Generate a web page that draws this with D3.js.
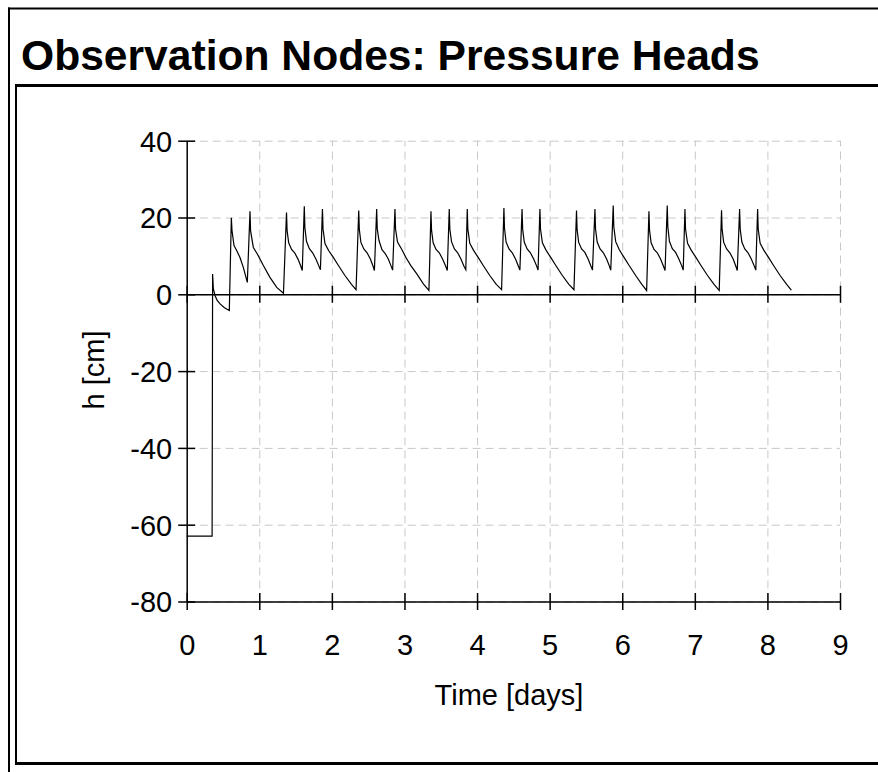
<!DOCTYPE html>
<html>
<head>
<meta charset="utf-8">
<style>
  body { margin: 0; background: #fff; }
  svg { display: block; font-family: "Liberation Sans", Arial, sans-serif; }
</style>
</head>
<body>
<div id="chart"></div>
<script src="https://d3js.org/d3.v7.min.js"></script>
<script>
// pressure head readings [time (days), h (cm)], one list per day
var day0 = [[0, -63], [0.35, -63], [0.357, 5.3], [0.367, 1.5], [0.39, -0.3], [0.42, -1.6], [0.46, -2.5], [0.52, -3.5], [0.587, -4.2],
  [0.615, 19.9], [0.624, 16.6], [0.652, 12.7], [0.688, 11.4], [0.734, 9.6], [0.78, 7.0], [0.835, 3.1],
  [0.872, 21.6], [0.88, 16.5], [0.918, 12.2], [0.973, 10.5], [1.056, 7.5], [1.147, 4.4], [1.24, 1.8], [1.333, 0.3]];
var day1 = [[1.375, 21.3], [1.383, 16.6], [1.405, 13.4], [1.445, 11.7], [1.49, 10.7], [1.535, 9.1], [1.572, 7.3], [1.592, 6.2],
  [1.62, 22.9], [1.628, 17.4], [1.65, 13.8], [1.69, 11.9], [1.735, 10.8], [1.78, 9.2], [1.82, 7.4], [1.842, 6.4],
  [1.87, 22.2], [1.878, 17.0], [1.905, 13.2], [1.955, 11.4], [2.02, 9.6], [2.09, 7.5], [2.18, 4.9], [2.27, 2.6], [2.333, 1.2]];
var day2 = [[2.37, 21.8], [2.378, 16.9], [2.4, 13.5], [2.44, 11.8], [2.485, 10.8], [2.53, 9.2], [2.568, 7.3], [2.586, 6.2],
  [2.617, 22.2], [2.625, 17.1], [2.649, 14.0], [2.69, 11.6], [2.735, 10.6], [2.777, 9.2], [2.815, 7.4], [2.837, 6.3],
  [2.869, 22.2], [2.877, 17.0], [2.904, 13.6], [2.96, 11.8], [3.02, 9.6], [3.09, 7.4], [3.17, 5.3], [3.26, 2.7], [3.337, 1.0]];
var day3 = [[3.365, 21.6], [3.373, 16.7], [3.395, 13.4], [3.435, 11.7], [3.48, 10.8], [3.525, 9.2], [3.568, 7.3], [3.59, 6.2],
  [3.617, 22.2], [3.625, 17.0], [3.648, 13.7], [3.688, 11.8], [3.733, 10.8], [3.778, 9.2], [3.82, 7.3], [3.845, 6.4],
  [3.865, 22.2], [3.873, 17.0], [3.9, 13.3], [3.95, 11.5], [4.015, 9.6], [4.085, 7.5], [4.175, 4.9], [4.265, 2.6], [4.338, 1.2]];
var day4 = [[4.37, 22.5], [4.378, 17.2], [4.4, 13.6], [4.44, 11.8], [4.485, 10.8], [4.53, 9.2], [4.57, 7.3], [4.59, 6.3],
  [4.62, 22.2], [4.628, 17.0], [4.65, 13.6], [4.69, 11.8], [4.735, 10.8], [4.78, 9.2], [4.82, 7.4], [4.84, 6.3],
  [4.866, 22.2], [4.874, 17.0], [4.9, 13.4], [4.95, 11.5], [5.015, 9.6], [5.085, 7.5], [5.175, 4.9], [5.265, 2.6], [5.335, 1.2]];
var day5 = [[5.37, 21.8], [5.378, 16.9], [5.4, 13.5], [5.44, 11.8], [5.485, 10.9], [5.53, 9.2], [5.57, 7.3], [5.59, 6.3],
  [5.624, 22.2], [5.632, 17.0], [5.655, 13.6], [5.695, 11.8], [5.74, 10.8], [5.785, 9.2], [5.822, 7.4], [5.842, 6.3],
  [5.876, 23.1], [5.884, 17.6], [5.91, 13.7], [5.96, 11.6], [6.025, 9.6], [6.095, 7.5], [6.185, 4.9], [6.27, 2.6], [6.336, 1.0]];
var day6 = [[6.368, 21.6], [6.376, 16.7], [6.398, 13.4], [6.438, 11.7], [6.483, 10.8], [6.528, 9.2], [6.568, 7.3], [6.59, 6.2],
  [6.62, 23.1], [6.628, 17.6], [6.65, 13.8], [6.69, 11.9], [6.735, 10.9], [6.78, 9.2], [6.82, 7.4], [6.84, 6.3],
  [6.864, 22.2], [6.872, 17.0], [6.9, 13.3], [6.95, 11.5], [7.015, 9.6], [7.085, 7.5], [7.175, 4.9], [7.265, 2.6], [7.336, 1.0]];
var day7 = [[7.368, 21.9], [7.376, 16.9], [7.398, 13.5], [7.438, 11.8], [7.483, 10.8], [7.528, 9.2], [7.565, 7.3], [7.585, 6.2],
  [7.617, 22.2], [7.625, 17.0], [7.648, 13.6], [7.688, 11.8], [7.733, 10.8], [7.778, 9.2], [7.818, 7.4], [7.84, 6.3],
  [7.865, 22.2], [7.873, 17.0], [7.9, 13.3], [7.95, 11.5], [8.015, 9.6], [8.085, 7.5], [8.175, 4.9], [8.265, 2.6], [8.33, 1.1]];

var xTicks = [0, 1, 2, 3, 4, 5, 6, 7, 8, 9];
var yTicks = [-80, -60, -40, -20, 0, 20, 40];
var yTickLabels = ["-80", "-60", "-40", "-20", "0", "20", "40"];

var series = [].concat(day0, day1, day2, day3, day4, day5, day6, day7);

var width = 878, height = 772;
var svg = d3.select("#chart").append("svg")
  .attr("width", width)
  .attr("height", height);

// frames
function frameLine(x1, y1, x2, y2, w) {
  svg.append("line")
    .attr("x1", x1).attr("y1", y1).attr("x2", x2).attr("y2", y2)
    .attr("stroke", "#000").attr("stroke-width", w);
}
frameLine(8, 8.5, width, 8.5, 2);
frameLine(9, 7.5, 9, height, 2);
frameLine(15, 85.5, width, 85.5, 3);
frameLine(16, 84, 16, 765, 2);
frameLine(15, 763.5, width, 763.5, 3);

svg.append("text")
  .attr("x", 21)
  .attr("y", 70)
  .attr("font-size", 42.6)
  .attr("font-weight", "bold")
  .text("Observation Nodes: Pressure Heads");

var x = d3.scaleLinear().domain([0, 9]).range([186.7, 840]);
var y = d3.scaleLinear().domain([-80, 40]).range([601.5, 140.7]);

// grid
var gridX = svg.append("g")
  .attr("transform", "translate(0," + y(-80) + ")")
  .call(d3.axisBottom(x).tickValues(xTicks.slice(1)).tickSize(-(y(-80) - y(40))).tickFormat(""));
var gridY = svg.append("g")
  .attr("transform", "translate(" + x(0) + ",0)")
  .call(d3.axisLeft(y).tickValues(yTicks).tickSize(-(x(9) - x(0))).tickFormat(""));
[gridX, gridY].forEach(function(g) {
  g.select(".domain").remove();
  g.selectAll(".tick line")
    .attr("stroke", "#c8c8c8")
    .attr("stroke-width", 1)
    .attr("stroke-dasharray", "8,5");
});

// zero line with ticks
var zeroAxis = svg.append("g")
  .attr("transform", "translate(0," + y(0) + ")")
  .call(d3.axisBottom(x).tickValues(xTicks).tickSizeOuter(0).tickFormat(""));

// bottom axis
var xAxis = svg.append("g")
  .attr("transform", "translate(0," + y(-80) + ")")
  .call(d3.axisBottom(x).tickValues(xTicks).tickSizeOuter(0)
    .tickFormat(function(d) { return String(d); }));
xAxis.selectAll(".tick text")
  .attr("y", 53.5)
  .attr("dy", 0)
  .attr("font-size", 29)
  .attr("fill", "#000");

// left axis
var yAxis = svg.append("g")
  .attr("transform", "translate(" + x(0) + ",0)")
  .call(d3.axisLeft(y).tickValues(yTicks).tickSizeOuter(0)
    .tickFormat(function(d, i) { return yTickLabels[i]; }));
yAxis.selectAll(".tick text")
  .attr("x", -14.5)
  .attr("dy", "0.36em")
  .attr("font-size", 29)
  .attr("fill", "#000");

[zeroAxis, xAxis].forEach(function(g) {
  g.selectAll(".tick line").attr("y1", -8.5).attr("y2", 8.5);
});
yAxis.selectAll(".tick line").attr("x1", -8.5).attr("x2", 8.5);
[zeroAxis, xAxis, yAxis].forEach(function(g) {
  g.selectAll("path, line").attr("stroke", "#000").attr("stroke-width", 1.5);
});

// pressure head line
svg.append("path")
  .datum(series)
  .attr("fill", "none")
  .attr("stroke", "#000")
  .attr("stroke-width", 1.2)
  .attr("d", d3.line()
    .x(function(d) { return x(d[0]); })
    .y(function(d) { return y(d[1]); }));

// axis titles
svg.append("text")
  .attr("x", 509)
  .attr("y", 705)
  .attr("text-anchor", "middle")
  .attr("font-size", 29)
  .text("Time [days]");

svg.append("text")
  .attr("transform", "translate(104,370) rotate(-90)")
  .attr("text-anchor", "middle")
  .attr("font-size", 29)
  .text("h [cm]");
</script>
</body>
</html>
